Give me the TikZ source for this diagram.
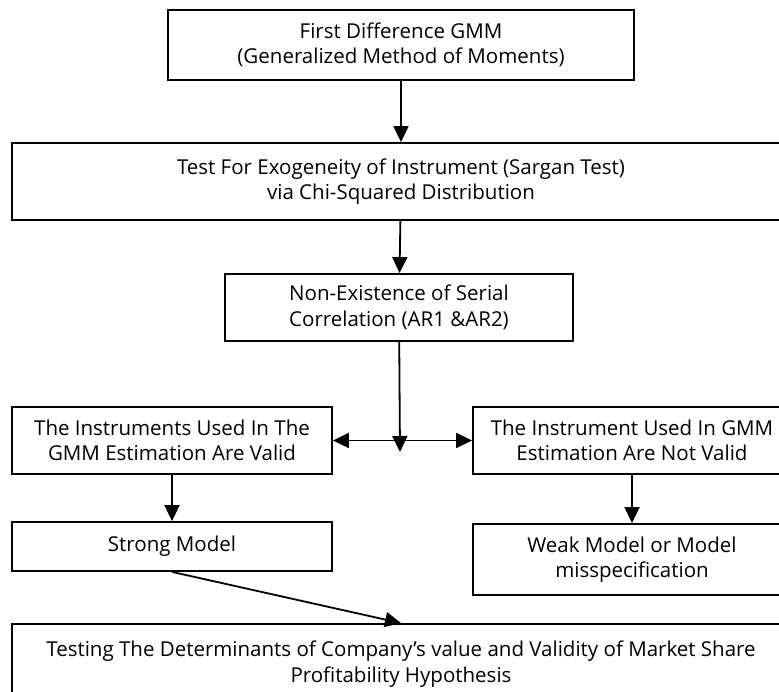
\documentclass[tikz,border=0pt]{standalone}
\usepackage{fontspec}
\setmainfont{Open Sans}
\usetikzlibrary{arrows.meta}

\begin{document}
\begin{tikzpicture}[x=1pt,y=-1pt]
    \tikzstyle{box}=[draw=black,line width=1.8pt,align=center,inner sep=0pt,font=\fontsize{20.5}{25.5}\selectfont]
    \tikzstyle{arrow}=[line width=1.8pt,-{Triangle[length=16pt,width=15pt]}]
    \path[use as bounding box,clip] (0,0) rectangle (779,692);
    \node[box,minimum width=466pt,minimum height=70pt] (first) at (401,45)
      {First Difference GMM\\(Generalized Method of Moments)};
    \node[box,minimum width=778pt,minimum height=77pt] (sargan) at (401,181.5)
      {Test For Exogeneity of Instrument (Sargan Test)\\via Chi-Squared Distribution};
    \node[box,minimum width=348pt,minimum height=67pt] (serial) at (399,307.5)
      {Non-Existence of Serial\\Correlation (AR1 \&AR2)};
    \node[box,minimum width=320pt,minimum height=67pt] (valid) at (172,440.5)
      {The Instruments Used In The\\GMM Estimation Are Valid};
    \node[box,minimum width=318pt,minimum height=67pt] (notvalid) at (632,440.5)
      {The Instrument Used In GMM\\Estimation Are Not Valid};
    \node[box,minimum width=320pt,minimum height=49pt] (strong) at (172,546.5) {Strong Model};
    \node[box,minimum width=318pt,minimum height=71pt] (weak) at (632,559.5)
      {Weak Model or Model\\misspecification};
    \node[box,minimum width=778pt,minimum height=80pt] (testing) at (401,664)
      {Testing The Determinants of Company’s value and Validity of Market Share\\Profitability Hypothesis};
    \coordinate (split) at (400,452);
    % connectors
    \draw[arrow] (first) -- (sargan);
    \draw[arrow] (sargan) -- (serial);
    \draw[arrow] (serial) -- (split);
    \draw[line width=1.8pt,{Triangle[length=16pt,width=15pt]}-{Triangle[length=16pt,width=15pt]}] (valid) -- (notvalid);
    \draw[arrow] (valid) -- (strong);
    \draw[arrow] (notvalid) -- (weak);
    \draw[arrow] (strong.south) -- (testing.north);
\end{tikzpicture}
\end{document}
